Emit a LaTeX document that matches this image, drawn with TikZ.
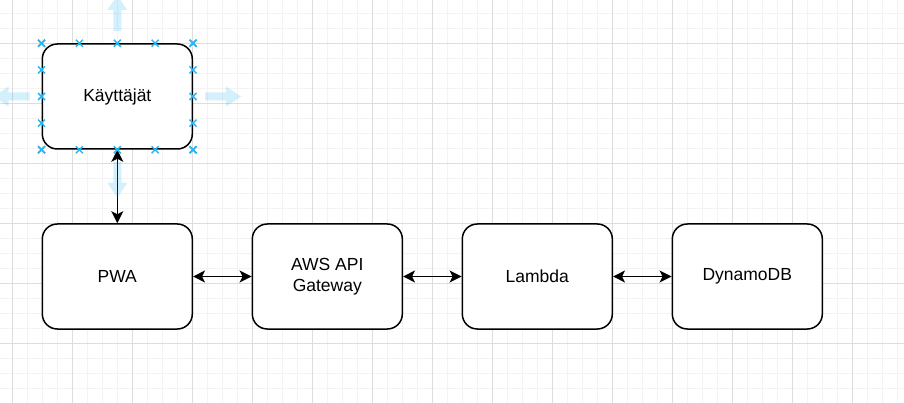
\documentclass[tikz,border=0pt]{standalone}
\usepackage{fontspec}
\setmainfont{Liberation Sans}
\usetikzlibrary{arrows.meta,calc}
\definecolor{minorg}{RGB}{243,243,243}
\definecolor{majorg}{RGB}{221,221,221}
\definecolor{selblue}{HTML}{29B6F2}
\tikzset{
  minorgrid/.style={draw=minorg, line width=1pt},
  majorgrid/.style={draw=majorg, line width=1pt},
  box/.style={draw=black, fill=white, line width=1.5pt, rounded corners=15pt,
    minimum width=150pt, minimum height=105pt, align=center,
    font=\fontsize{17.5}{21}\selectfont, inner sep=0pt},
  conn/.style={line width=1.5pt, {Stealth[length=12pt,width=12pt,inset=3pt]}-{Stealth[length=12pt,width=12pt,inset=3pt]}},
  handle/.style={draw=selblue, line width=1.5pt},
  hover/.style={fill=selblue, fill opacity=0.2}
}
\begin{document}
\begin{tikzpicture}[x=1pt,y=-1pt]
\useasboundingbox (0,0) rectangle (904,403);
% grid
\fill[white] (0,0) rectangle (904,403);
\foreach \i in {0,...,61} { \draw[minorgrid] ({-3+15*\i},0) -- ({-3+15*\i},403); }
\foreach \j in {0,...,27} { \draw[minorgrid] (0,{-1.2+15*\j}) -- (904,{-1.2+15*\j}); }
\foreach \i in {0,...,15} { \draw[majorgrid] ({12+60*\i},0) -- ({12+60*\i},403); }
\foreach \j in {0,...,6} { \draw[majorgrid] (0,{-16.2+60*\j}) -- (904,{-16.2+60*\j}); }
% nodes
\node[box] (k) at (117.3,96.5) {Käyttäjät};
\node[box] (pwa) at (117.3,276.5) {PWA};
\node[box] (api) at (327.3,276.5) {AWS API\\Gateway};
\node[box] (lam) at (537.3,276.5) {Lambda};
\node[box] (ddb) at (747.3,276.5) {DynamoDB};
% connectors
\draw[conn] (k.south) -- (pwa.north);
\draw[conn] (pwa.east) -- (api.west);
\draw[conn] (api.east) -- (lam.west);
\draw[conn] (lam.east) -- (ddb.west);
% hover arrows
\path[hover, shift={(k.east)}] (12,-4) -- (33,-4) -- (33,-10) -- (48,0) -- (33,10) -- (33,4) -- (12,4) -- cycle;
\path[hover, shift={(k.west)}] (-12,-4) -- (-33,-4) -- (-33,-10) -- (-48,0) -- (-33,10) -- (-33,4) -- (-12,4) -- cycle;
\path[hover, shift={(k.south)}] (-4,12) -- (-4,33) -- (-10,33) -- (0,48) -- (10,33) -- (4,33) -- (4,12) -- cycle;
\path[hover, shift={(k.north)}] (-4,-12) -- (-4,-33) -- (-10,-33) -- (0,-48) -- (10,-33) -- (4,-33) -- (4,-12) -- cycle;
% selection handles
\foreach \f in {0,0.25,0.5,0.75,1} {
  \path ($(k.north west)!\f!(k.north east)$) coordinate (ht);
  \path ($(k.south west)!\f!(k.south east)$) coordinate (hb);
  \path ($(k.north west)!\f!(k.south west)$) coordinate (hl);
  \path ($(k.north east)!\f!(k.south east)$) coordinate (hr);
  \foreach \c in {ht,hb,hl,hr} {
    \draw[handle] (\c) ++(-3.5,-3.5) -- ++(7,7);
    \draw[handle] (\c) ++(-3.5,3.5) -- ++(7,-7);
  }
}
\end{tikzpicture}
\end{document}
